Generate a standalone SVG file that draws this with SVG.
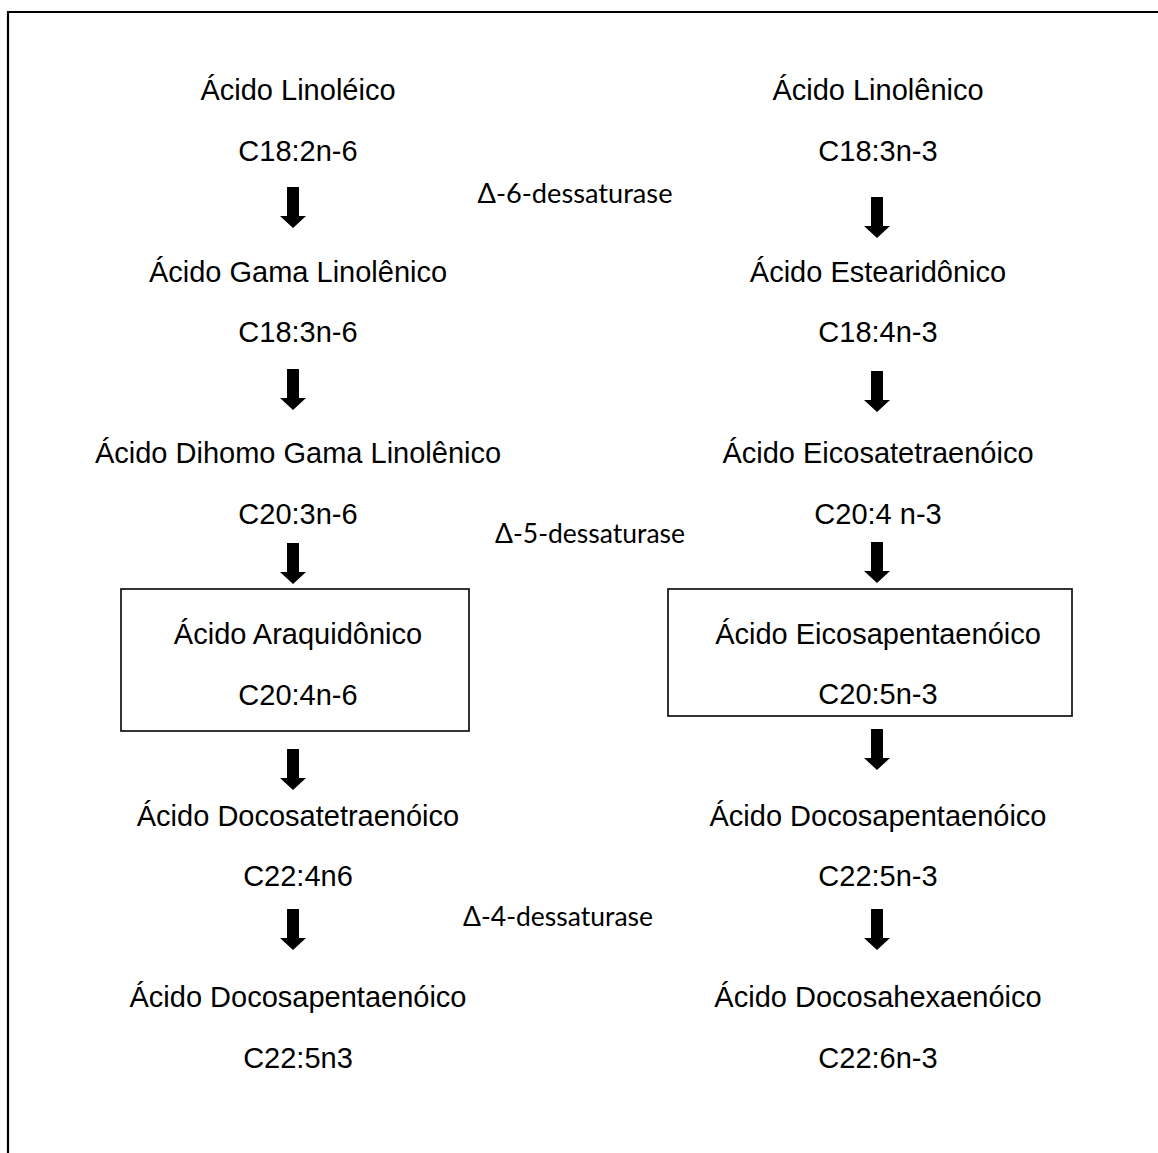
<svg xmlns="http://www.w3.org/2000/svg" xmlns:xlink="http://www.w3.org/1999/xlink" width="1158" height="1153" viewBox="0 0 1158 1153">
<style>
.t{font-family:"Liberation Sans",Arial,sans-serif;font-size:29px;fill:#000;text-anchor:middle}
.e{font-family:Lato,"Open Sans",sans-serif;font-size:26px;fill:#000;text-anchor:middle}
.box{fill:none;stroke:#111;stroke-width:1.7}
.arr{fill:#000}
</style>
<defs>
<path id="a" class="arr" d="M-6,0 H6 V29 H13 L0,41 L-13,29 H-6 Z"/>
</defs>
<rect width="1158" height="1153" fill="#fff"/>
<g id="border" stroke="#000" stroke-width="2.2" fill="none">
<line x1="8" y1="12" x2="1158" y2="12"/>
<line x1="8" y1="11" x2="8" y2="1153"/>
</g>
<g id="connectors">
<use xlink:href="#a" x="293" y="187"/>
<use xlink:href="#a" x="293" y="369"/>
<use xlink:href="#a" x="293" y="543"/>
<use xlink:href="#a" x="293" y="749"/>
<use xlink:href="#a" x="293" y="909"/>
<use xlink:href="#a" x="877" y="197"/>
<use xlink:href="#a" x="877" y="371"/>
<use xlink:href="#a" x="877" y="542"/>
<use xlink:href="#a" x="877" y="729"/>
<use xlink:href="#a" x="877" y="909"/>
</g>
<g id="enzymes">
<text id="d6" class="e" x="575" y="203" textLength="195" lengthAdjust="spacingAndGlyphs">Δ-6-dessaturase</text>
<text id="d5" class="e" x="590" y="543" textLength="190" lengthAdjust="spacingAndGlyphs">Δ-5-dessaturase</text>
<text id="d4" class="e" x="558" y="926" textLength="190" lengthAdjust="spacingAndGlyphs">Δ-4-dessaturase</text>
</g>
<g id="n-linoleico"><text class="t" x="298" y="100">Ácido Linoléico</text><text class="t" x="298" y="161">C18:2n-6</text></g>
<g id="n-gama"><text class="t" x="298" y="282">Ácido Gama Linolênico</text><text class="t" x="298" y="342">C18:3n-6</text></g>
<g id="n-dihomo"><text class="t" x="298" y="463">Ácido Dihomo Gama Linolênico</text><text class="t" x="298" y="524">C20:3n-6</text></g>
<g id="n-araquidonico"><rect class="box" x="121" y="589" width="348" height="142"/><text class="t" x="298" y="644">Ácido Araquidônico</text><text class="t" x="298" y="705">C20:4n-6</text></g>
<g id="n-docosatetra"><text class="t" x="298" y="826">Ácido Docosatetraenóico</text><text class="t" x="298" y="886">C22:4n6</text></g>
<g id="n-docosapenta-l"><text class="t" x="298" y="1007">Ácido Docosapentaenóico</text><text class="t" x="298" y="1068">C22:5n3</text></g>
<g id="n-linolenico"><text class="t" x="878" y="100">Ácido Linolênico</text><text class="t" x="878" y="161">C18:3n-3</text></g>
<g id="n-estearidonico"><text class="t" x="878" y="282">Ácido Estearidônico</text><text class="t" x="878" y="342">C18:4n-3</text></g>
<g id="n-eicosatetra"><text class="t" x="878" y="463">Ácido Eicosatetraenóico</text><text class="t" x="878" y="524">C20:4 n-3</text></g>
<g id="n-eicosapenta"><rect class="box" x="668" y="589" width="404" height="127"/><text class="t" x="878" y="644">Ácido Eicosapentaenóico</text><text class="t" x="878" y="704">C20:5n-3</text></g>
<g id="n-docosapenta-r"><text class="t" x="878" y="826">Ácido Docosapentaenóico</text><text class="t" x="878" y="886">C22:5n-3</text></g>
<g id="n-docosahexa"><text class="t" x="878" y="1007">Ácido Docosahexaenóico</text><text class="t" x="878" y="1068">C22:6n-3</text></g>
</svg>
